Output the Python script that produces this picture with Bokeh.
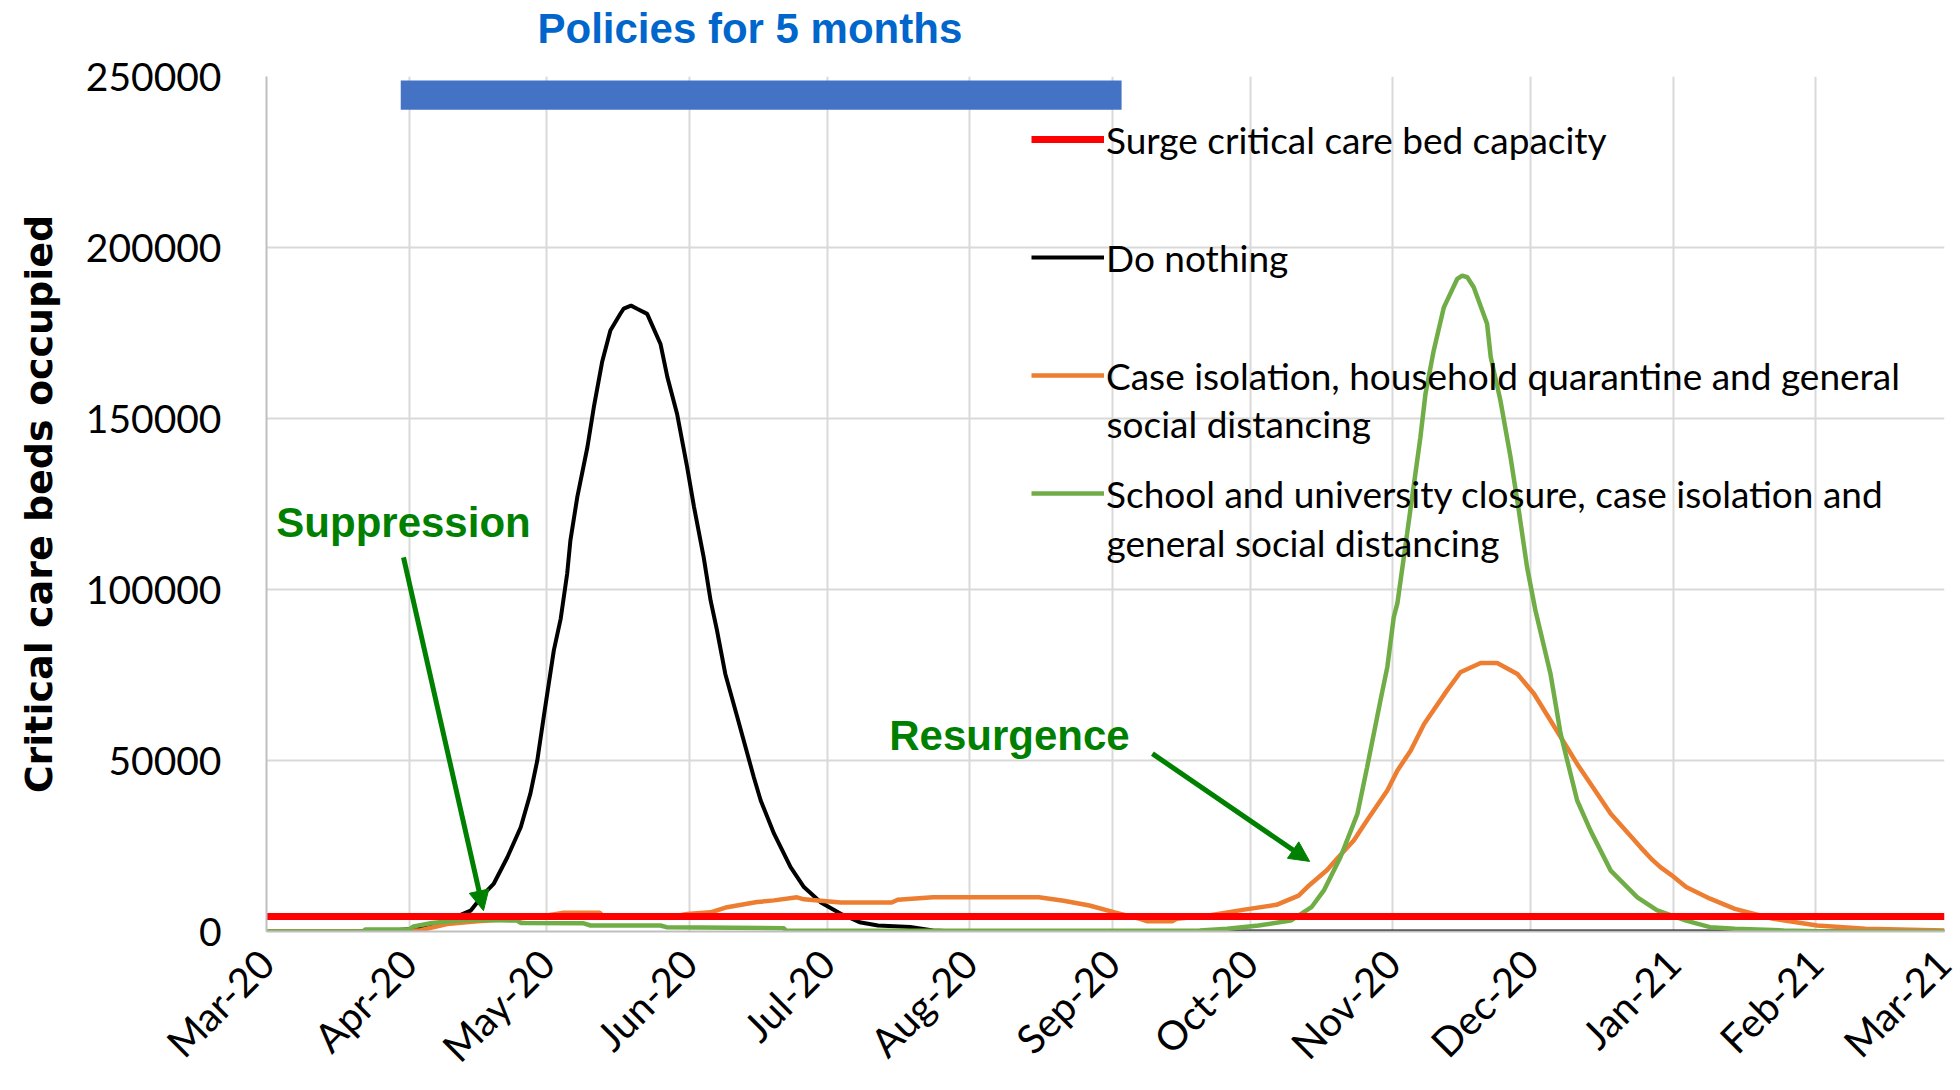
import math
import pandas as pd
from bokeh.plotting import figure
from bokeh.models import (Range1d, MonthsTicker, DatetimeTickFormatter, FixedTicker,
                          BasicTickFormatter, Legend, LegendItem, Label, Arrow, NormalHead)
from bokeh.core.properties import value
from bokeh.embed import file_html
from bokeh.resources import INLINE

# ---------------- data (days counted from 1 March 2020) ----------------
start_date = "2020-03-01"
end_date = "2021-03-01"

do_nothing_day = [0, 20, 28, 33, 36, 39.3, 44.4, 47.3, 49.4, 52.4, 55.3, 57.4, 58.9, 60.3, 62.5,
                  64.0, 65.4, 66.1, 67.6, 69.8, 71.2, 73.0, 74.8, 77.0, 77.7, 79.3, 80.6, 82.8,
                  85.7, 87.2, 89.3, 91.5, 93.0, 95.1, 96.6, 98.0, 99.8, 102.4, 106.0, 107.5,
                  110.4, 114.0, 116.9, 120.6, 124.9, 129, 133, 140, 145, 150, 365]
do_nothing_beds = [0, 100, 400, 900, 1500, 3200, 6100, 11000, 13900, 21700, 30500, 40300, 50000,
                   62700, 82200, 91500, 104600, 114300, 127000, 141600, 153300, 166500, 175700,
                   180700, 182100, 183000, 182100, 180600, 171800, 162100, 151400, 135800, 124100,
                   109400, 96800, 88000, 75300, 62700, 45100, 38300, 28600, 18800, 13000, 8500,
                   5200, 2700, 1750, 1300, 300, 0, 0]

case_isolation_day = [0, 21, 30, 33.5, 39.3, 45.8, 54.5, 61, 64.7, 72.5, 73, 78.5, 79.2, 87.2,
                      91.5, 96.6, 100.2, 106.7, 110.4, 115.4, 116.9, 124.9, 136, 137.3, 145, 168,
                      173.4, 179, 184.5, 190, 191.5, 197, 198, 205, 209, 212.7, 219.7, 224.5,
                      226.4, 230.7, 233, 236.5, 239.4, 243.8, 246, 248.9, 251.8, 256.8, 259.7,
                      264.1, 267.7, 272.1, 275.7, 279.3, 285.1, 288, 292.4, 298.9, 301.4, 303.2,
                      305.6, 308.8, 314, 319.4, 327.8, 337.3, 347.8, 365]
case_isolation_beds = [0, 0, 200, 400, 2200, 3000, 3700, 4700, 5500, 5500, 4700, 4700, 4000, 4000,
                       5100, 5600, 7100, 8600, 9100, 10000, 9400, 8500, 8500, 9300, 10000, 10000,
                       9000, 7600, 5600, 3700, 3000, 3000, 3700, 4700, 5600, 6400, 7800, 10500,
                       13000, 18000, 21500, 26600, 32500, 41200, 47100, 52900, 60700, 70500, 75800,
                       78500, 78500, 75300, 69500, 61700, 49000, 43200, 34400, 24600, 21000, 18800,
                       16500, 13000, 9600, 6600, 3700, 1750, 780, 300]

school_closure_day = [0, 21, 21.5, 31, 32, 36, 41.6, 46.5, 54.5, 55.3, 69, 70.5, 85.7, 87, 112.5,
                      113, 153, 200, 203, 209, 215.8, 222.8, 227.3, 230, 233.6, 237.3, 239.4,
                      242.3, 243.8, 245.2, 246, 248.1, 249.6, 251, 252.1, 253.9, 256.1, 259.0,
                      260.1, 261.2, 262.6, 265.5, 266.3, 268.4, 270.6, 272.4, 274.2, 276, 279.3,
                      281.5, 285.1, 288, 292.4, 298.2, 302.5, 308.8, 314, 319.4, 330, 340, 365]
school_closure_beds = [0, 0, 600, 600, 1500, 2500, 3200, 3400, 3200, 2500, 2400, 1750, 1750, 1270,
                       970, 300, 250, 250, 300, 780, 1750, 3200, 7100, 12000, 21700, 34400, 48000,
                       67500, 77300, 91900, 96000, 116300, 130900, 144500, 157200, 169900, 182500,
                       190800, 191800, 191300, 188400, 177700, 167900, 155300, 138700, 123100,
                       106500, 94000, 75300, 57800, 38300, 29500, 17800, 10000, 6200, 3200, 1270,
                       780, 300, 0, 0]

surge_capacity = 4400
capacity_day = [0, 365]

policy_start_day = 29.2
policy_end_day = 186.0

y_ticks = [0, 50000, 100000, 150000, 200000, 250000]

legend_labels = ["Surge critical care bed capacity",
                 "Do nothing",
                 "Case isolation, household quarantine and general\nsocial distancing",
                 "School and university closure, case isolation and\ngeneral social distancing"]

# ---------------- helpers ----------------
START = pd.Timestamp(start_date)
END = pd.Timestamp(end_date)
EPOCH = pd.Timestamp("1970-01-01")


def to_dates(days):
    return [START + pd.Timedelta(days=d) for d in days]


def to_ms(day):
    return (START + pd.Timedelta(days=day) - EPOCH).total_seconds() * 1000.0


# ---------------- figure ----------------
p = figure(width=1960, height=1090, x_axis_type="datetime",
           x_range=Range1d(START, END), y_range=Range1d(0, 250000),
           output_backend="svg", toolbar_location=None,
           min_border_left=266, min_border_right=16, min_border_top=76, min_border_bottom=159)
p.outline_line_color = None
p.background_fill_color = "white"
p.border_fill_color = "white"

# text over the policy bar
p.title.text = "Policies for 5 months"
p.title.align = "left"
p.title.offset = 271
p.title.text_font = "Liberation Sans"
p.title.text_font_style = "bold"
p.title.text_font_size = "42px"
p.title.text_color = "#0066CC"
p.title.vertical_align = "bottom"
p.title.standoff = 2
p.title.padding = dict(left=0, right=0, top=0, bottom=24)

month_ticker = MonthsTicker(months=list(range(12)))
p.xaxis.ticker = month_ticker
p.xgrid.ticker = month_ticker
p.xaxis.formatter = DatetimeTickFormatter(months="%b-%y", days="%b-%y", years="%b-%y")
p.xaxis.major_label_orientation = math.pi / 4
p.xaxis.major_label_text_font = "Lato"
p.xaxis.major_label_text_font_size = "40px"
p.xaxis.major_label_text_color = "black"
p.xaxis.major_label_standoff = 25

p.yaxis.ticker = FixedTicker(ticks=y_ticks)
p.ygrid.ticker = FixedTicker(ticks=y_ticks)
p.yaxis.formatter = BasicTickFormatter(use_scientific=False)
p.yaxis.major_label_text_font = "Lato"
p.yaxis.major_label_text_font_size = "39px"
p.yaxis.major_label_text_color = "black"
p.yaxis.major_label_standoff = 45
p.yaxis.axis_label = "Critical care beds occupied"
p.yaxis.axis_label_text_font = "DejaVu Sans"
p.yaxis.axis_label_text_font_style = "bold"
p.yaxis.axis_label_text_font_size = "38px"
p.yaxis.axis_label_text_color = "black"
p.yaxis.axis_label_standoff = 22

for ax in (p.xaxis, p.yaxis):
    ax.major_tick_line_color = None
    ax.minor_tick_line_color = None
    ax.major_tick_out = 0
    ax.major_tick_in = 0
    ax.axis_line_color = "#BFBFBF"
    ax.axis_line_width = 2

for g in (p.xgrid, p.ygrid):
    g.grid_line_color = "#D9D9D9"
    g.grid_line_width = 2

# policy bar
p.quad(left=to_dates([policy_start_day]), right=to_dates([policy_end_day]),
       bottom=[240300], top=[248800], fill_color="#4472C4", line_color=None)

r_black = p.line(to_dates(do_nothing_day), do_nothing_beds, line_color="#000000", line_width=4)
r_orange = p.line(to_dates(case_isolation_day), case_isolation_beds, line_color="#ED7D31", line_width=4.5)
r_green = p.line(to_dates(school_closure_day), school_closure_beds, line_color="#70AD47", line_width=4.5)
r_red = p.line(to_dates(capacity_day), [surge_capacity] * len(capacity_day), line_color="#FF0000", line_width=7)

first_lines = [lbl.split("\n")[0] for lbl in legend_labels]
legend = Legend(items=[LegendItem(label=value(first_lines[0]), renderers=[r_red]),
                       LegendItem(label=value(first_lines[1]), renderers=[r_black]),
                       LegendItem(label=value(first_lines[2]), renderers=[r_orange]),
                       LegendItem(label=value(first_lines[3]), renderers=[r_green])],
                location=(765, 414), orientation="vertical",
                glyph_width=73, glyph_height=48, label_height=48, spacing=70,
                padding=0, margin=0, label_standoff=2,
                border_line_color=None, background_fill_alpha=0,
                label_text_font="Lato", label_text_font_size="37px", label_text_color="black")
p.add_layout(legend)

second_lines = [lbl.split("\n")[1] for lbl in legend_labels if "\n" in lbl]
for txt, ys in zip(second_lines, [508, 389]):
    p.add_layout(Label(x=840, y=ys, x_units="screen", y_units="screen", text=txt,
                       text_font="Lato", text_font_size="37px", text_color="black",
                       text_baseline="middle", text_align="left"))

# annotations
p.add_layout(Label(x=to_ms(29.8), y=119600, text="Suppression",
                   text_font="Liberation Sans", text_font_style="bold", text_font_size="42px",
                   text_color="#008000", text_align="center", text_baseline="alphabetic"))
p.add_layout(Label(x=to_ms(161.6), y=57300, text="Resurgence",
                   text_font="Liberation Sans", text_font_style="bold", text_font_size="42px",
                   text_color="#008000", text_align="center", text_baseline="alphabetic"))

for (d0, v0, d1, v1) in [(29.8, 109400, 47.2, 6100), (192.7, 52000, 226.9, 20500)]:
    p.add_layout(Arrow(end=NormalHead(size=20, fill_color="#008000", line_color="#008000", line_width=1),
                       x_start=to_ms(d0), y_start=v0, x_end=to_ms(d1), y_end=v1,
                       line_color="#008000", line_width=5))

open("out.html", "w").write(file_html(p, INLINE))
